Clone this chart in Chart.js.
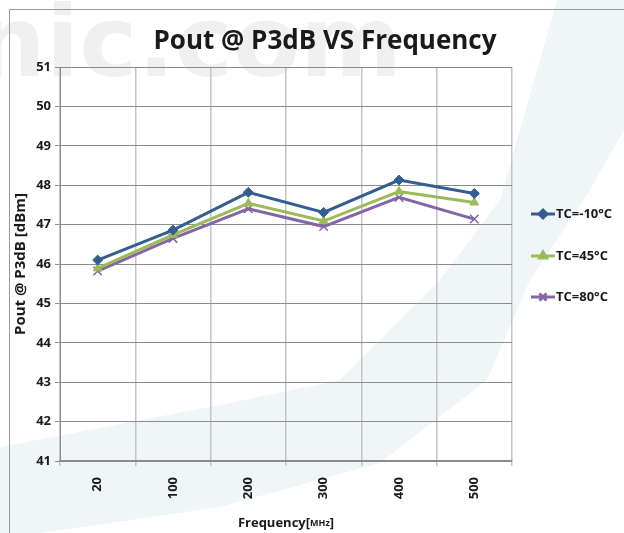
<!DOCTYPE html>
<html>
<head>
    <title>Pout @ P3dB VS Frequency</title>
    <script src="https://cdn.jsdelivr.net/npm/chart.js"></script>
    <style>
        body { margin: 0; background: #fff; }
        .wrap { width: 624px; height: 533px; position: relative; }
    </style>
</head>
<body>

<div class="wrap"><canvas id="grafico"></canvas></div>

<script>
    // datos
    const frecuencias = ['20', '100', '200', '300', '400', '500'];
    const tcMenos10 = [46.10, 46.86, 47.82, 47.31, 48.13, 47.79];
    const tc45 = [45.89, 46.74, 47.54, 47.09, 47.84, 47.56];
    const tc80 = [45.82, 46.65, 47.40, 46.95, 47.69, 47.14];
    const yTicks = [41, 42, 43, 44, 45, 46, 47, 48, 49, 50, 51];

    const FONT = '"Open Sans", "DejaVu Sans", sans-serif';

    // fondo: marca de agua, franja celeste y marco
    const fondo = {
        id: 'fondo',
        beforeDraw(chart) {
            const ctx = chart.ctx;
            ctx.save();
            ctx.fillStyle = '#ffffff';
            ctx.fillRect(0, 0, chart.width, chart.height);

            ctx.fillStyle = '#f0f6f8';
            ctx.beginPath();
            ctx.moveTo(0, 447);
            ctx.lineTo(220, 405);
            ctx.lineTo(340, 380);
            ctx.lineTo(440, 280);
            ctx.lineTo(500, 200);
            ctx.lineTo(557, 0);
            ctx.lineTo(624, 0);
            ctx.lineTo(624, 130);
            ctx.lineTo(590, 190);
            ctx.lineTo(530, 280);
            ctx.lineTo(487, 380);
            ctx.lineTo(380, 463);
            ctx.lineTo(220, 507);
            ctx.lineTo(83, 527);
            ctx.lineTo(40, 533);
            ctx.lineTo(0, 533);
            ctx.closePath();
            ctx.fill();

            ctx.fillStyle = '#f0f0f0';
            ctx.font = 'bold 98px "DejaVu Sans", sans-serif';
            ctx.textBaseline = 'alphabetic';
            ctx.fillText('nic.com', -24, 76);

            ctx.strokeStyle = '#9a9a9a';
            ctx.lineWidth = 1;
            ctx.beginPath();
            ctx.moveTo(9.5, 533);
            ctx.lineTo(9.5, 9.5);
            ctx.lineTo(624, 9.5);
            ctx.stroke();
            ctx.restore();
        },
        afterDraw(chart) {
            const ctx = chart.ctx;
            ctx.save();
            ctx.fillStyle = '#1a1a1a';
            ctx.textBaseline = 'middle';
            ctx.textAlign = 'center';
            ctx.font = 'bold 26px ' + FONT;
            ctx.fillText('Pout @ P3dB VS Frequency', 325, 42);

            // titulo eje x con MHz mas pequeno
            const a = 'Frequency[', b = 'MHz', c = ']';
            ctx.font = 'bold 13px ' + FONT;
            const wa = ctx.measureText(a).width, wc = ctx.measureText(c).width;
            ctx.font = 'bold 9px ' + FONT;
            const wb = ctx.measureText(b).width;
            let x = 286 - (wa + wb + wc) / 2;
            ctx.textAlign = 'left';
            ctx.textBaseline = 'alphabetic';
            ctx.font = 'bold 13px ' + FONT;
            ctx.fillText(a, x, 527);
            x += wa;
            ctx.font = 'bold 9px ' + FONT;
            ctx.fillText(b, x, 526);
            x += wb;
            ctx.font = 'bold 13px ' + FONT;
            ctx.fillText(c, x, 527);

            // leyenda
            const ys = [214, 256, 297];
            chart.data.datasets.forEach((ds, i) => {
                const y = ys[i];
                ctx.strokeStyle = ds.borderColor;
                ctx.lineWidth = 3;
                ctx.beginPath();
                ctx.moveTo(531, y);
                ctx.lineTo(555, y);
                ctx.stroke();
                ctx.fillStyle = ds.backgroundColor;
                Chart.helpers.drawPoint(ctx, {
                    pointStyle: ds.pointStyle,
                    radius: ds.pointRadius - 1,
                    rotation: 0,
                    borderWidth: ds.pointBorderWidth || 1
                }, 543, y);
                ctx.fillStyle = '#1a1a1a';
                ctx.font = 'bold 13px ' + FONT;
                ctx.textAlign = 'left';
                ctx.textBaseline = 'middle';
                ctx.fillText(ds.label, 556, y);
            });
            ctx.restore();
        }
    };

    new Chart(document.getElementById('grafico'), {
        type: 'line',
        data: {
            labels: frecuencias,
            datasets: [
                {
                    label: 'TC=-10°C',
                    data: tcMenos10,
                    borderColor: '#335e8f',
                    backgroundColor: '#335e8f',
                    borderWidth: 3,
                    pointStyle: 'rectRot',
                    pointRadius: 5,
                    pointBorderWidth: 1
                },
                {
                    label: 'TC=45°C',
                    data: tc45,
                    borderColor: '#9bbb59',
                    backgroundColor: '#9bbb59',
                    borderWidth: 3,
                    pointStyle: 'triangle',
                    pointRadius: 5,
                    pointBorderWidth: 1
                },
                {
                    label: 'TC=80°C',
                    data: tc80,
                    borderColor: '#8566a5',
                    backgroundColor: '#8566a5',
                    borderWidth: 3,
                    pointStyle: 'crossRot',
                    pointRadius: 6,
                    pointBorderWidth: 1.5
                }
            ]
        },
        options: {
            responsive: true,
            maintainAspectRatio: false,
            animation: false,
            layout: { padding: { left: 12, top: 67, right: 112, bottom: 0 } },
            plugins: {
                legend: { display: false },
                title: { display: false },
                tooltip: { enabled: false }
            },
            scales: {
                x: {
                    offset: true,
                    grid: { offset: true, color: '#c4c4c4', lineWidth: 1.5, tickLength: 5 },
                    border: { color: '#8c8c8c', width: 1.5 },
                    ticks: {
                        minRotation: 90, maxRotation: 90, padding: 11,
                        color: '#1a1a1a', font: { family: FONT, size: 13, weight: 'bold' }
                    },
                    afterFit(s) { s.height = 72; }
                },
                y: {
                    min: 41, max: 51,
                    afterBuildTicks(s) { s.ticks = yTicks.map(v => ({ value: v })); },
                    grid: { color: '#8c8c8c', lineWidth: 1, tickLength: 5 },
                    border: { color: '#8c8c8c', width: 1 },
                    ticks: {
                        padding: 4, color: '#1a1a1a',
                        font: { family: FONT, size: 13, weight: 'bold' }
                    },
                    title: {
                        display: true, text: 'Pout @ P3dB [dBm]', color: '#1a1a1a',
                        font: { family: FONT, size: 15, weight: 'bold' }, padding: 0
                    },
                    afterFit(s) { s.width = 48; }
                }
            }
        },
        plugins: [fondo]
    });
</script>

</body>
</html>
